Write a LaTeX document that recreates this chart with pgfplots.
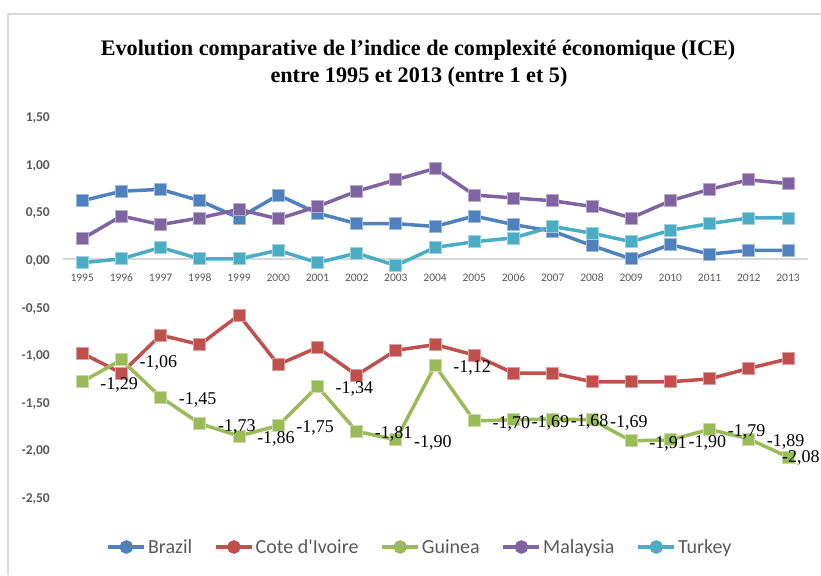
\documentclass[border=0pt]{standalone}
\usepackage{pgfplots}
\pgfplotsset{compat=1.18}
\usepackage{pgfplotstable}
\usepackage{fontspec}
\setmainfont{Liberation Serif}
\newfontfamily\carlito{Carlito}
\definecolor{cBrazil}{HTML}{4F81BD}
\definecolor{cCote}{HTML}{C0504D}
\definecolor{cGuinea}{HTML}{9BBB59}
\definecolor{cMalaysia}{HTML}{8064A2}
\definecolor{cTurkey}{HTML}{4BACC6}
\definecolor{cGrey}{HTML}{595959}
\definecolor{cLine}{HTML}{D9D9D9}

\pgfplotstableread{
year brazil cote guinea malaysia turkey lab
1995 0.61 -0.99 -1.29 0.21 -0.04 -1,29
1996 0.71 -1.20 -1.06 0.45 0.00 -1,06
1997 0.73 -0.80 -1.45 0.36 0.12 -1,45
1998 0.61 -0.90 -1.73 0.43 0.00 -1,73
1999 0.43 -0.59 -1.86 0.52 0.00 -1,86
2000 0.67 -1.11 -1.75 0.42 0.09 -1,75
2001 0.48 -0.93 -1.34 0.55 -0.04 -1,34
2002 0.37 -1.22 -1.81 0.71 0.06 -1,81
2003 0.37 -0.96 -1.90 0.83 -0.07 -1,90
2004 0.34 -0.90 -1.12 0.95 0.12 -1,12
2005 0.45 -1.01 -1.70 0.67 0.18 -1,70
2006 0.36 -1.20 -1.69 0.64 0.22 -1,69
2007 0.29 -1.20 -1.68 0.61 0.34 -1,68
2008 0.14 -1.29 -1.69 0.55 0.27 -1,69
2009 0.00 -1.29 -1.91 0.43 0.18 -1,91
2010 0.15 -1.29 -1.90 0.61 0.30 -1,90
2011 0.05 -1.26 -1.79 0.73 0.37 -1,79
2012 0.09 -1.15 -1.89 0.83 0.43 -1,89
2013 0.09 -1.05 -2.08 0.79 0.43 -2,08
}\data

\pgfplotsset{
  ser/.style={color=#1, line width=3.5pt, mark=square*, mark size=6pt,
    mark options={solid, fill=#1, draw=#1!55!white, line width=0.8pt}},
}

\begin{document}
\begin{tikzpicture}[x=1pt,y=1pt]
\useasboundingbox (0,0) rectangle (821,-575);
\draw[cLine, line width=1.8pt] (8,-575) -- (8,-14) -- (821,-14);

\begin{axis}[
  at={(62.6pt,-497pt)}, anchor=south west,
  scale only axis, width=745pt, height=381pt,
  xmin=1994.5, xmax=2013.5, ymin=-2.5, ymax=1.5,
  clip=false,
  axis x line*=middle, axis y line*=left,
  x axis line style={draw=cLine, line width=2pt},
  y axis line style={draw=none},
  major tick length=0pt,
  xtick={1995,1996,...,2013},
  xticklabels={1995,1996,1997,1998,1999,2000,2001,2002,2003,2004,2005,2006,2007,2008,2009,2010,2011,2012,2013},
  xticklabel style={font=\carlito\fontsize{11.5}{13}\selectfont, text=cGrey, anchor=center, yshift=-18.7pt, inner sep=0pt},
  ytick={-2.5,-2,-1.5,-1,-0.5,0,0.5,1,1.5},
  yticklabel={\pgfmathprintnumber[fixed,fixed zerofill,precision=2,use comma,assume math mode=true]{\tick}},
  yticklabel style={font=\carlito\bfseries\fontsize{13.5}{15}\selectfont, text=cGrey, anchor=east, inner sep=0pt, xshift=-12.6pt, yshift=-2pt},
  legend columns=5,
  legend style={at={(0.4797,-0.1312)}, anchor=center, draw=none, fill=none,
    font=\carlito\fontsize{20}{24}\selectfont, text=cGrey,
    nodes={inner xsep=2pt, inner ysep=0pt},
    /tikz/every even column/.append style={column sep=20pt}},
  legend image code/.code={
    \draw[#1, mark=none] (0pt,0pt) -- (36pt,0pt);
    \fill[#1] (18pt,0pt) circle (5pt);
  },
]
\addplot[ser=cBrazil] table[x=year,y=brazil]{\data};
\addlegendentry{Brazil}
\addplot[ser=cCote] table[x=year,y=cote]{\data};
\addlegendentry{Cote d'Ivoire}
\addplot[ser=cGuinea] table[x=year,y=guinea]{\data};
\addlegendentry{Guinea}
\addplot[ser=cMalaysia] table[x=year,y=malaysia]{\data};
\addlegendentry{Malaysia}
\addplot[ser=cTurkey] table[x=year,y=turkey]{\data};
\addlegendentry{Turkey}

\addplot[draw=none, mark=none, forget plot, restrict x to domain=1994:2012.5,
  point meta=explicit symbolic,
  nodes near coords, nodes near coords align={anchor=west},
  every node near coord/.append style={font=\fontsize{18}{20}\selectfont, text=black, inner sep=0pt, anchor=west, xshift=18pt, yshift=-2.8pt}]
  table[x=year,y=guinea,meta=lab]{\data};
\addplot[draw=none, mark=none, forget plot, restrict x to domain=2012.5:2014,
  point meta=explicit symbolic,
  nodes near coords, nodes near coords align={anchor=west},
  every node near coord/.append style={font=\fontsize{18}{20}\selectfont, text=black, inner sep=0pt, anchor=west, xshift=-6pt, yshift=-1pt}]
  table[x=year,y=guinea,meta=lab]{\data};
\end{axis}

\node[anchor=base, font=\bfseries\fontsize{22.2}{26}\selectfont] at (418,-56) {Evolution comparative de l’indice de complexité économique (ICE)};
\node[anchor=base, font=\bfseries\fontsize{22.2}{26}\selectfont] at (419,-83) {entre 1995 et 2013 (entre 1 et 5)};
\end{tikzpicture}
\end{document}
